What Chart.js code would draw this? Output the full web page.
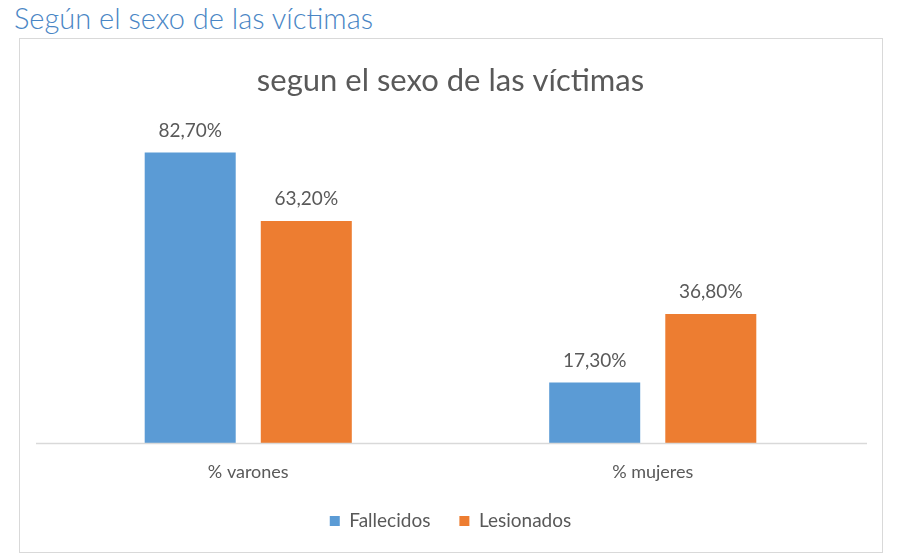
<!DOCTYPE html>
<html lang="es">
<head>
    <meta charset="UTF-8">
    <title>Según el sexo de las víctimas</title>
    <script src="https://cdn.jsdelivr.net/npm/chart.js"></script>
    <style>
        body { margin: 0; background: #fff; }
        #wrap { position: relative; width: 900px; height: 557px; overflow: hidden; }
        #heading {
            position: absolute; left: 14px; top: 0px;
            font-family: Lato, sans-serif; font-size: 29px; font-weight: 300; color: #4a86c5;
        }
        #box {
            position: absolute; left: 19px; top: 38px; width: 862px; height: 513px;
            border: 1px solid #d9d9d9;
        }
        #chart { position: absolute; left: 0; top: 0; }
    </style>
</head>
<body>
<div id="wrap">
    <div id="heading">Según el sexo de las víctimas</div>
    <div id="box"></div>
    <canvas id="chart" width="900" height="557"></canvas>
</div>
<script>
    // datos
    const categorias = ['% varones', '% mujeres'];
    const fallecidos = [82.7, 17.3];
    const lesionados = [63.2, 36.8];

    const gris = '#595959';
    const fuente = 'Lato, sans-serif';

    // etiquetas de valor encima de las barras + linea base
    const etiquetas = {
        id: 'etiquetas',
        afterDatasetsDraw(chart) {
            const ctx = chart.ctx;
            const y0 = chart.scales.y.getPixelForValue(0);
            ctx.save();
            ctx.strokeStyle = '#d9d9d9';
            ctx.lineWidth = 1.5;
            ctx.beginPath();
            ctx.moveTo(36, y0);
            ctx.lineTo(867, y0);
            ctx.stroke();

            ctx.fillStyle = gris;
            ctx.font = '19px ' + fuente;
            ctx.textAlign = 'center';
            ctx.textBaseline = 'middle';
            chart.data.datasets.forEach((ds, i) => {
                chart.getDatasetMeta(i).data.forEach((bar, j) => {
                    const txt = ds.data[j].toFixed(2).replace('.', ',') + '%';
                    ctx.fillText(txt, bar.x, bar.y - 22);
                });
            });
            ctx.restore();
        }
    };

    new Chart(document.getElementById('chart'), {
        type: 'bar',
        data: {
            labels: categorias,
            datasets: [
                { label: 'Fallecidos', data: fallecidos, backgroundColor: '#5b9bd5' },
                { label: 'Lesionados', data: lesionados, backgroundColor: '#ed7d31' }
            ]
        },
        options: {
            responsive: false,
            animation: false,
            layout: { padding: { left: 46, right: 45, top: 0, bottom: 16.5 } },
            categoryPercentage: 0.574,
            barPercentage: 0.784,
            plugins: {
                title: {
                    display: true,
                    text: 'segun el sexo de las víctimas',
                    color: gris,
                    font: { family: fuente, size: 31, weight: 'normal' },
                    padding: { top: 62, bottom: 27.5 }
                },
                legend: {
                    position: 'bottom',
                    labels: {
                        color: gris,
                        font: { family: fuente, size: 19 },
                        boxWidth: 10,
                        boxHeight: 10,
                        padding: 29
                    }
                },
                tooltip: { enabled: false }
            },
            scales: {
                x: {
                    grid: { display: false },
                    border: { display: false },
                    ticks: { color: gris, font: { family: fuente, size: 18 }, padding: 10 },
                    afterFit(scale) { scale.height = 39; }
                },
                y: {
                    display: false,
                    min: 0,
                    max: 90
                }
            }
        },
        plugins: [etiquetas]
    });
</script>
</body>
</html>
